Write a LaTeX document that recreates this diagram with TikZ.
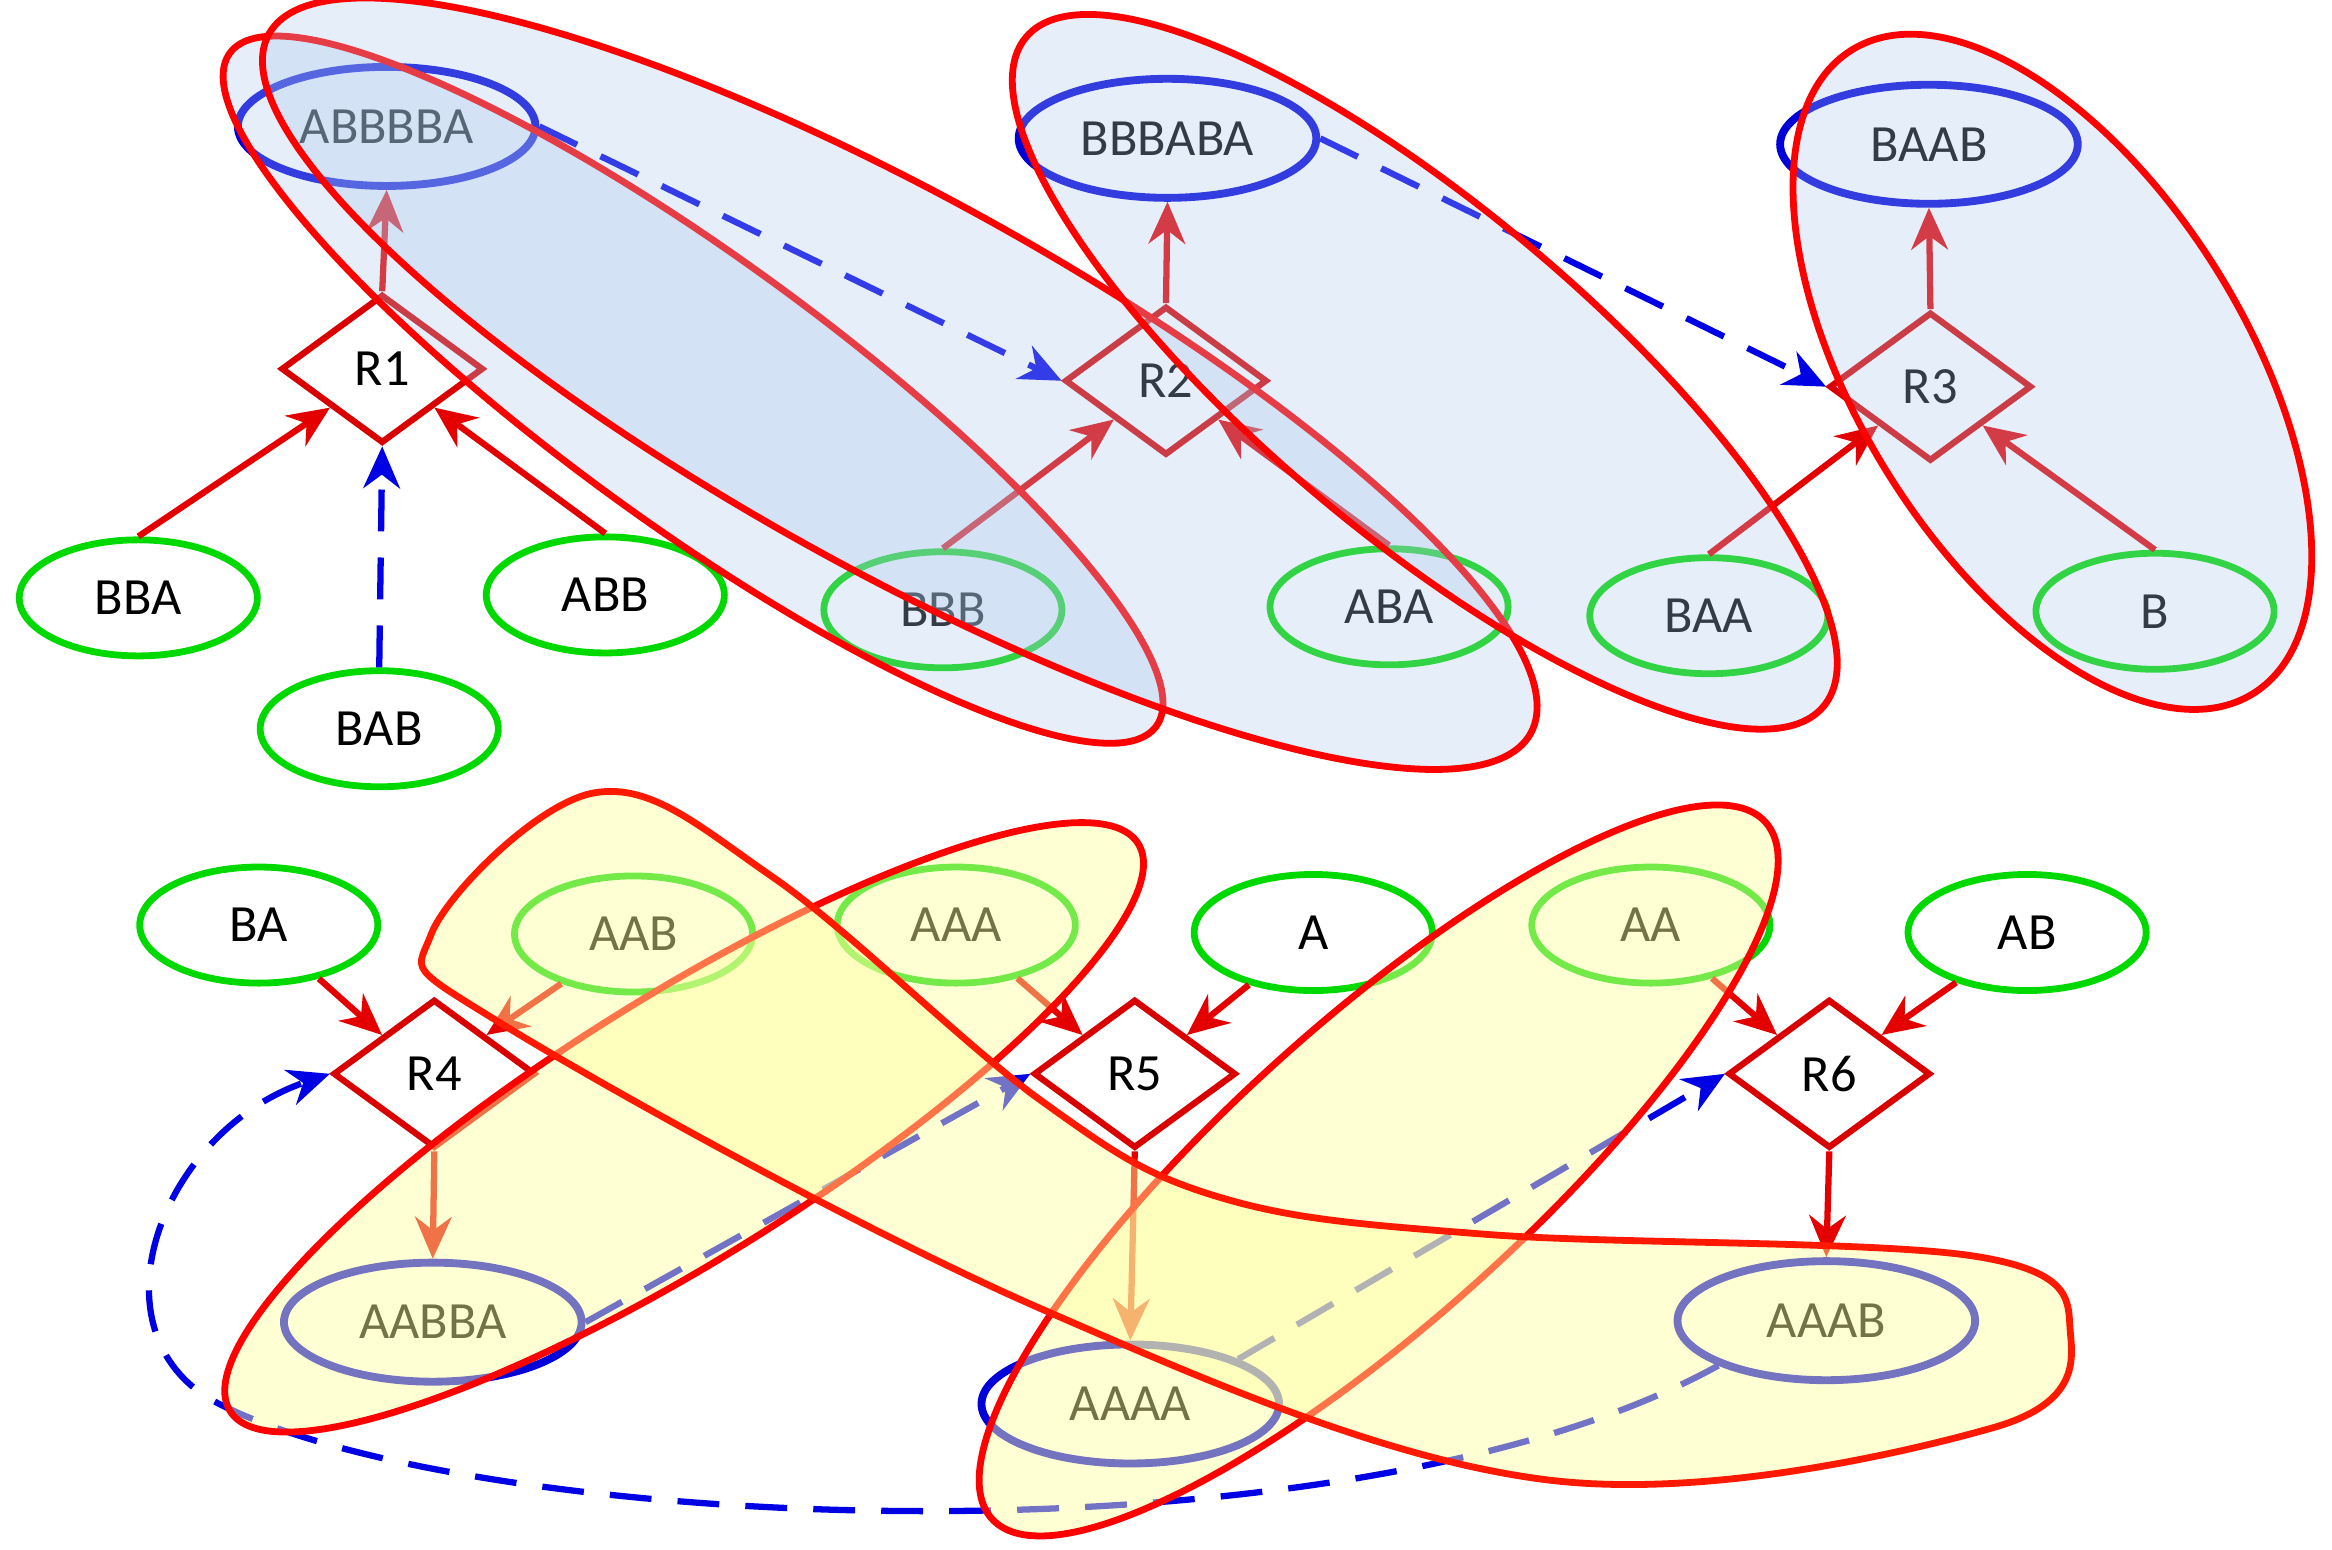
\documentclass[tikz,border=0pt]{standalone}
\usepackage{fontspec}
\setmainfont{Carlito}
\usetikzlibrary{shapes.geometric,arrows.meta}
\begin{document}
\begin{tikzpicture}[x=0.01cm,y=-0.01cm,font=\fontsize{10}{12}\selectfont,
 prod/.style={ellipse,draw=blue!85!black,line width=1.5pt,minimum width=2cm,minimum height=0.8cm,inner sep=0},
 sub/.style={ellipse,draw=green!85!black,line width=1.3pt,minimum width=1.6cm,minimum height=0.78cm,inner sep=0},
 rx/.style={diamond,draw=red!85!black,line width=1.2pt,minimum width=1.36cm,minimum height=1cm,shape aspect=1.36,inner sep=0},
 ra/.style={-{Stealth[length=8pt,width=7pt]},red!90!black,line width=1.2pt},
 da/.style={-{Stealth[length=8pt,width=7pt]},blue!90!black,line width=1.2pt,dashed,dash pattern=on 8pt off 5pt},
 breg/.style={draw=red,line width=1.3pt,fill={rgb,255:red,170;green,200;blue,235},fill opacity=0.3},
 yreg/.style={draw=red,line width=1.3pt,fill={rgb,255:red,255;green,255;blue,160},fill opacity=0.45}]
\useasboundingbox (0,0) rectangle (1568,1042);
% nodes
\node[prod] (ABBBBA) at (260,85) {ABBBBA};
\node[prod] (BBBABA) at (785,93) {BBBABA};
\node[prod] (BAAB) at (1297,97) {BAAB};
\node[rx] (R1) at (257,248) {R1};
\node[rx] (R2) at (784,256) {R2};
\node[rx] (R3) at (1298,260) {R3};
\node[sub] (BBA) at (93,402) {BBA};
\node[sub] (ABB) at (407,400) {ABB};
\node[sub] (BAB) at (255,490) {BAB};
\node[sub] (BBB) at (634,410) {BBB};
\node[sub] (ABA) at (934,408) {ABA};
\node[sub] (BAA) at (1149,414) {BAA};
\node[sub] (B) at (1449,411) {B};
\node[sub] (BA) at (174,622) {BA};
\node[sub] (AAB) at (426,628) {AAB};
\node[sub] (AAA) at (643,622) {AAA};
\node[sub] (A) at (883,627) {A};
\node[sub] (AA) at (1110,622) {AA};
\node[sub] (AB) at (1363,627) {AB};
\node[rx] (R4) at (292,722) {R4};
\node[rx] (R5) at (763,722) {R5};
\node[rx] (R6) at (1230,722) {R6};
\node[prod] (AABBA) at (291,889) {AABBA};
\node[prod] (AAAA) at (760,944) {AAAA};
\node[prod] (AAAB) at (1228,888) {AAAB};
% edges
\draw[ra] (BBA.north) -- (R1.south west);
\draw[ra] (ABB.north) -- (R1.south east);
\draw[ra] (R1.north) -- (ABBBBA.south);
\draw[ra] (BBB.north) -- (R2.south west);
\draw[ra] (ABA.north) -- (R2.south east);
\draw[ra] (R2.north) -- (BBBABA.south);
\draw[ra] (BAA.north) -- (R3.south west);
\draw[ra] (B.north) -- (R3.south east);
\draw[ra] (R3.north) -- (BAAB.south);
\draw[ra] (BA) -- (R4.north west);
\draw[ra] (AAB) -- (R4.north east);
\draw[ra] (R4.south) -- (AABBA.north);
\draw[ra] (AAA) -- (R5.north west);
\draw[ra] (A) -- (R5.north east);
\draw[ra] (R5.south) -- (AAAA.north);
\draw[ra] (AA) -- (R6.north west);
\draw[ra] (AB) -- (R6.north east);
\draw[ra] (R6.south) -- (AAAB.north);
\draw[da] (ABBBBA.east) -- (R2.west);
\draw[da] (BBBABA.east) -- (R3.west);
\draw[da] (BAB.north) -- (R1.south);
\draw[da] (AABBA.east) -- (R5.west);
\draw[da] (AAAA.north east) -- (R6.west);
\draw[da] (AAAB.south west) .. controls (900,1060) and (300,1030) .. (140,940)
  .. controls (60,890) and (110,760) .. (R4.west);
% regions
\draw[breg] (466,262) ellipse[x radius=385,y radius=90,rotate=-36];
\draw[breg] (605,258) ellipse[x radius=485,y radius=125,rotate=-29];
\draw[breg] (958,250) ellipse[x radius=350,y radius=110,rotate=-40];
\draw[breg] (1380,250) ellipse[x radius=255,y radius=130,rotate=-58];
\draw[yreg] (460,758) ellipse[x radius=360,y radius=88,rotate=32];
\draw[yreg] (927,787) ellipse[x radius=350,y radius=100,rotate=42];
\draw[yreg,draw=red!80!orange] plot[smooth cycle,tension=0.6] coordinates {(290,628) (400,533) (520,590) (700,740) (820,805) (1000,830) (1330,845) (1392,895) (1340,960) (1040,995) (700,880) (340,690)};
\end{tikzpicture}
\end{document}
